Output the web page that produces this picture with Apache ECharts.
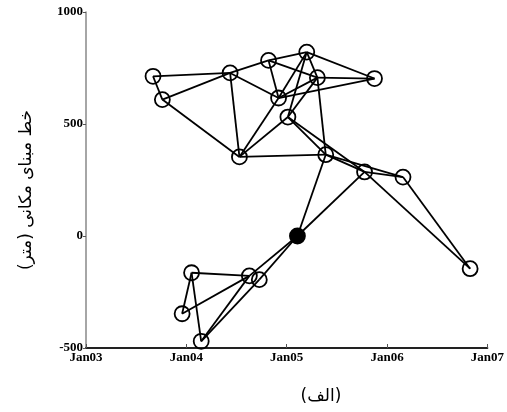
<!DOCTYPE html>
<html>
<head>
<meta charset="utf-8">
<script src="https://cdn.jsdelivr.net/npm/echarts@6/dist/echarts.min.js"></script>
<style>
html,body{margin:0;padding:0;background:#fff;}
#chart{width:507px;height:412px;}
</style>
</head>
<body>
<div id="chart"></div>
<script>
// Acquisition time (decimal years) and spatial baseline (m) for each image
const times = [2003.668, 2003.761, 2004.436, 2004.819, 2005.200, 2005.306, 2005.875, 2004.919, 2005.012, 2004.529,
               2005.389, 2005.776, 2006.159, 2006.828, 2005.107, 2004.052, 2004.628, 2004.727, 2003.958, 2004.148];
const baselines = [713, 609, 728, 784, 821, 707, 703, 616, 531, 353,
                   363, 286, 263, -146, 0, -164, -178, -195, -347, -470];
const masterIndex = 14; // filled (master) image
// Interferometric pairs (1-based node numbers)
const linkFrom = [1, 1, 2, 2, 3, 3, 3, 4, 4, 4, 5, 5, 5, 5, 6, 6, 6, 6, 7, 8, 9, 9, 9, 10, 11, 11, 11, 12, 12, 12, 13, 15, 15, 16, 16, 16, 17, 17, 18];
const linkTo   = [2, 3, 3, 10, 4, 8, 10, 5, 6, 8, 6, 7, 8, 9, 7, 8, 9, 11, 8, 10, 10, 11, 12, 11, 12, 13, 15, 13, 14, 15, 14, 17, 18, 17, 19, 20, 19, 20, 20];
const xTicks = [2003, 2004, 2005, 2006, 2007];
const xTickLabels = ['Jan03', 'Jan04', 'Jan05', 'Jan06', 'Jan07'];
const yTicks = [-500, 0, 500, 1000];
const yTitle = 'خط مبنای مکانی (متر)';
const xTitle = '(الف)';

const chart = echarts.init(document.getElementById('chart'), null, {renderer: 'canvas'});
const labelFont = {fontFamily: 'Liberation Serif', fontWeight: 'bold', fontSize: 13, color: '#000'};
chart.setOption({
  animation: false,
  backgroundColor: '#fff',
  grid: {left: 86, right: 18, top: 12, bottom: 64, containLabel: false},
  xAxis: {
    type: 'value', min: xTicks[0], max: xTicks[xTicks.length - 1], interval: 1,
    axisLine: {onZero: false, lineStyle: {color: '#222', width: 2}},
    axisTick: {inside: true, length: 4, lineStyle: {color: '#555', width: 1}},
    splitLine: {show: false},
    axisLabel: Object.assign({margin: 3, formatter: v => xTickLabels[xTicks.indexOf(v)] || ''}, labelFont)
  },
  yAxis: {
    type: 'value', min: yTicks[0], max: yTicks[yTicks.length - 1], interval: 500,
    axisLine: {show: true, onZero: false, lineStyle: {color: '#888', width: 1.5}},
    axisTick: {show: true, inside: false, length: 3, lineStyle: {color: '#555', width: 1}},
    splitLine: {show: false},
    axisLabel: Object.assign({margin: 3, formatter: v => String(v)}, labelFont)
  },
  graphic: [
    {type: 'text', x: 27, y: 190, rotation: Math.PI / 2,
     style: {text: yTitle, font: '17px "DejaVu Sans"', fill: '#000', textAlign: 'center', textVerticalAlign: 'middle'}},
    {type: 'text', x: 321, y: 397,
     style: {text: xTitle, font: '17px "DejaVu Sans"', fill: '#000', textAlign: 'center', textVerticalAlign: 'middle'}}
  ],
  series: [{
    type: 'graph',
    coordinateSystem: 'cartesian2d',
    symbol: 'circle',
    symbolSize: 15,
    silent: true,
    itemStyle: {color: 'rgba(255,255,255,0)', borderColor: '#000', borderWidth: 1.8},
    lineStyle: {color: '#000', width: 1.8, opacity: 1, curveness: 0},
    label: {show: false},
    data: times.map((t, i) => ({
      value: [t, baselines[i]],
      itemStyle: i === masterIndex ? {color: '#000'} : undefined
    })),
    links: linkFrom.map((s, k) => ({source: s - 1, target: linkTo[k] - 1}))
  }]
});
</script>
</body>
</html>
